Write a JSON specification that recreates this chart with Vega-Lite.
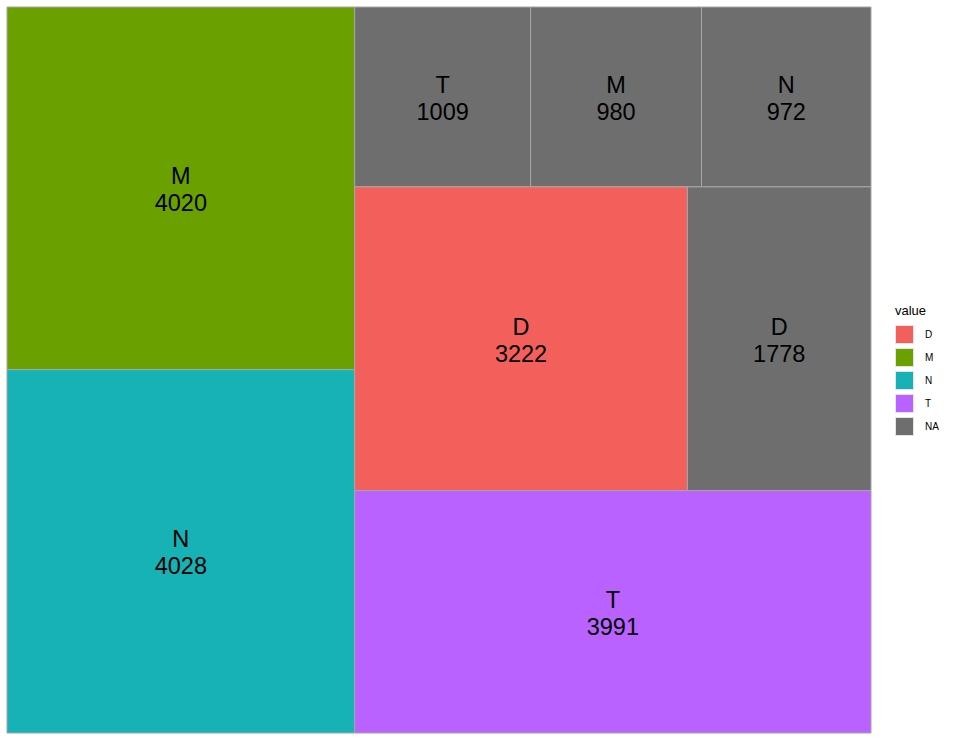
{
  "$schema": "https://vega.github.io/schema/vega-lite/v6.json",
  "width": 864,
  "height": 726,
  "autosize": "none",
  "padding": {"left": 7, "top": 7, "right": 84, "bottom": 8},
  "background": "white",
  "config": {"view": {"stroke": null}, "font": "Liberation Sans"},
  "data": {
    "values": [
      {"value": "M", "label": "M", "n": 4020, "col": 1, "row": 1, "item": 1},
      {"value": "N", "label": "N", "n": 4028, "col": 1, "row": 2, "item": 1},
      {"value": "NA", "label": "T", "n": 1009, "col": 2, "row": 1, "item": 1},
      {"value": "NA", "label": "M", "n": 980, "col": 2, "row": 1, "item": 2},
      {"value": "NA", "label": "N", "n": 972, "col": 2, "row": 1, "item": 3},
      {"value": "D", "label": "D", "n": 3222, "col": 2, "row": 2, "item": 1},
      {"value": "NA", "label": "D", "n": 1778, "col": 2, "row": 2, "item": 2},
      {"value": "T", "label": "T", "n": 3991, "col": 2, "row": 3, "item": 1}
    ]
  },
  "transform": [
    {"joinaggregate": [{"op": "sum", "field": "n", "as": "total"}]},
    {"joinaggregate": [{"op": "sum", "field": "n", "as": "colTotal"}], "groupby": ["col"]},
    {"joinaggregate": [{"op": "sum", "field": "n", "as": "rowTotal"}], "groupby": ["col", "row"]},
    {"window": [{"op": "sum", "field": "n", "as": "colEnd"}], "sort": [{"field": "col"}], "frame": [null, 0], "ignorePeers": false},
    {"window": [{"op": "sum", "field": "n", "as": "rowEnd"}], "groupby": ["col"], "sort": [{"field": "row"}], "frame": [null, 0], "ignorePeers": false},
    {"window": [{"op": "sum", "field": "n", "as": "itemEnd"}], "groupby": ["col", "row"], "sort": [{"field": "item"}], "frame": [null, 0], "ignorePeers": false},
    {"calculate": "(datum.colEnd - datum.colTotal) / datum.total + (datum.itemEnd - datum.n) / datum.rowTotal * datum.colTotal / datum.total", "as": "x0"},
    {"calculate": "(datum.colEnd - datum.colTotal) / datum.total + datum.itemEnd / datum.rowTotal * datum.colTotal / datum.total", "as": "x1"},
    {"calculate": "(datum.rowEnd - datum.rowTotal) / datum.colTotal", "as": "y0"},
    {"calculate": "datum.rowEnd / datum.colTotal", "as": "y1"},
    {"calculate": "(datum.x0 + datum.x1) / 2", "as": "xc"},
    {"calculate": "(datum.y0 + datum.y1) / 2", "as": "yc"}
  ],
  "layer": [
    {
      "mark": {"type": "rect", "stroke": "#a6a6a6", "strokeWidth": 1},
      "encoding": {
        "x": {"field": "x0", "type": "quantitative", "scale": {"domain": [0, 1], "nice": false, "zero": false}, "axis": null},
        "x2": {"field": "x1"},
        "y": {"field": "y0", "type": "quantitative", "scale": {"domain": [0, 1], "nice": false, "zero": false, "reverse": true}, "axis": null},
        "y2": {"field": "y1"},
        "color": {
          "field": "value",
          "type": "nominal",
          "scale": {"domain": ["D", "M", "N", "T", "NA"], "range": ["#F35F5B", "#6AA100", "#17B2B5", "#B962FF", "#6E6E6E"]},
          "legend": {
            "title": "value",
            "orient": "none",
            "legendX": 888,
            "legendY": 298,
            "titleFontSize": 13,
            "titleFontWeight": "normal",
            "titleColor": "#000000",
            "titlePadding": 7,
            "symbolType": "square",
            "symbolSize": 324,
            "symbolStrokeColor": "#e5e5e5",
            "symbolStrokeWidth": 1,
            "symbolOpacity": 1,
            "labelFontSize": 10,
            "labelColor": "#000000",
            "labelOffset": 11,
            "rowPadding": 0
          }
        }
      }
    },
    {
      "mark": {"type": "text", "fontSize": 23.5, "color": "#000000", "dy": -11, "baseline": "middle", "align": "center"},
      "encoding": {
        "x": {"field": "xc", "type": "quantitative"},
        "y": {"field": "yc", "type": "quantitative"},
        "text": {"field": "label"}
      }
    },
    {
      "mark": {"type": "text", "fontSize": 23.5, "color": "#000000", "dy": 16, "baseline": "middle", "align": "center"},
      "encoding": {
        "x": {"field": "xc", "type": "quantitative"},
        "y": {"field": "yc", "type": "quantitative"},
        "text": {"field": "n"}
      }
    }
  ]
}
